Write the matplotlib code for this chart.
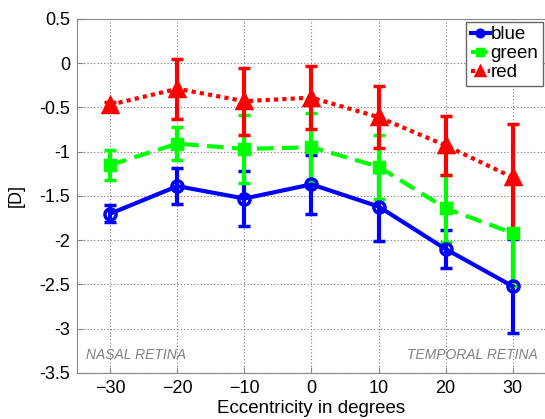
import matplotlib.pyplot as plt
import numpy as np

plt.rcParams['font.family'] = ['Liberation Sans', 'DejaVu Sans']

ecc = [-30, -20, -10, 0, 10, 20, 30]

blue = [-1.70, -1.39, -1.53, -1.37, -1.62, -2.10, -2.52]
blue_err = [0.10, 0.20, 0.31, 0.33, 0.39, 0.21, 0.53]

green = [-1.15, -0.91, -0.97, -0.95, -1.17, -1.64, -1.92]
green_err = [0.17, 0.19, 0.38, 0.39, 0.36, 0.38, 0.60]

red = [-0.47, -0.29, -0.43, -0.39, -0.61, -0.93, -1.29]
red_err = [0.03, 0.34, 0.38, 0.36, 0.35, 0.33, 0.60]

fig = plt.figure(figsize=(5.45, 4.19), dpi=100)
ax = fig.add_axes([0.141, 0.110, 0.861, 0.845])

# series: (values, errors, colour, linestyle, marker, marker size, label)
series = [
    (blue, blue_err, '#0000ff', '-', 'o', 8, 'blue'),
    (green, green_err, '#00ff00', (0, (4, 2)), 's', 7.5, 'green'),
    (red, red_err, '#ff0000', (0, (1, 1)), '^', 10, 'red'),
]

handles = []
for vals, errs, col, ls, mk, ms, lab in series:
    ax.errorbar(ecc, vals, yerr=errs, fmt='none', ecolor=col,
                elinewidth=3, capsize=4, capthick=2.5, zorder=3)
    face = 'none' if mk == 'o' else col
    h, = ax.plot(ecc, vals, color=col, linestyle=ls, linewidth=3,
                 marker=mk, markersize=ms, markerfacecolor=face,
                 markeredgecolor=col, markeredgewidth=2.5, label=lab, zorder=4)
    handles.append(h)

ax.set_xlim(-35, 35)
ax.set_ylim(-3.5, 0.5)
ax.set_xticks(ecc)
ax.set_yticks(np.arange(-3.5, 0.51, 0.5))
ax.set_yticklabels(['-3.5', '-3', '-2.5', '-2', '-1.5', '-1', '-0.5', '0', '0.5'])
ax.tick_params(labelsize=13, direction='in', length=4, color='#888888', pad=5)
ax.grid(True, linestyle=(0, (1, 2)), color='#777777', linewidth=0.8)
for sp in ax.spines.values():
    sp.set_color('#888888')

ax.set_xlabel('Eccentricity in degrees', fontsize=13.5, labelpad=2)
ax.set_ylabel('[D]', fontsize=13, labelpad=10)

ax.text(-33.7, -3.3, 'NASAL RETINA', color='#808080', fontsize=10,
        style='italic', ha='left', va='center')
ax.text(33.7, -3.3, 'TEMPORAL RETINA', color='#808080', fontsize=10,
        style='italic', ha='right', va='center')

leg = ax.legend(handles=handles, loc='upper right', fontsize=13.5,
                handlelength=1.0, handletextpad=0.05, borderpad=0.25,
                labelspacing=0.1, fancybox=False, framealpha=1,
                borderaxespad=0.15, markerscale=0.6)
leg.get_frame().set_edgecolor('#666666')
leg.get_frame().set_linewidth(1)

fig.savefig('out.png', dpi=100)
